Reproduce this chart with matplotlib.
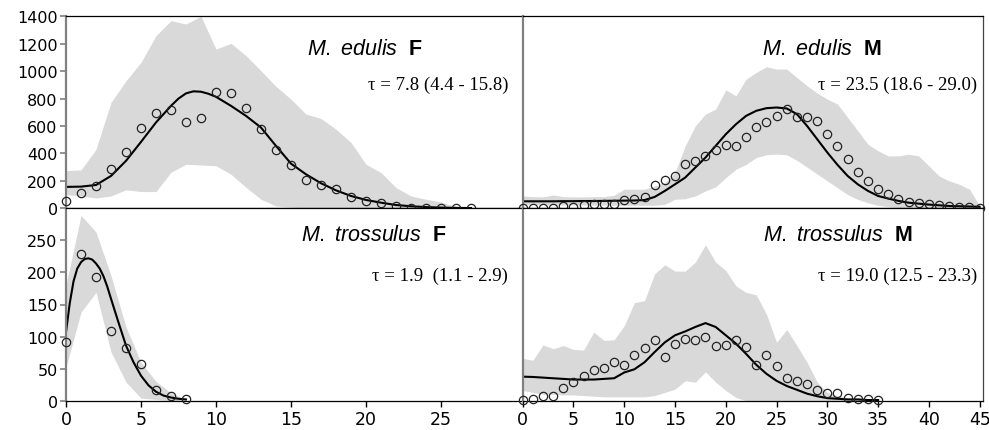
import matplotlib
matplotlib.use("Agg")
import matplotlib.pyplot as plt
import numpy as np

plt.rcParams['font.family'] = ['DejaVu Sans']
plt.rcParams['mathtext.fontset'] = 'custom'
plt.rcParams['mathtext.it'] = 'Liberation Sans:italic'
plt.rcParams['mathtext.bf'] = 'Liberation Sans:bold'
plt.rcParams['mathtext.rm'] = 'Liberation Sans'

# ---- M. edulis F (top left) ----
ef_x = np.arange(0, 28)
ef_obs = [50, 114, 163, 285, 407, 582, 694, 718, 628, 655, 847, 838, 728, 577,
          426, 314, 205, 173, 139, 83, 54, 41, 17, 5, 3, 1, 0, 0]
ef_fit_x = [0, 1, 2, 3, 4, 5, 6, 7, 7.5, 8, 8.5, 9, 9.5, 10, 11, 12, 13,
            14, 15, 16, 17, 18, 19, 20, 21, 22, 23, 24, 25, 26, 27]
ef_fit = [156, 158, 170, 236, 346, 484, 626, 747, 800, 838, 853, 850, 835, 813, 747, 674, 589,
          455, 326, 248, 183, 131, 90, 61, 41, 24, 15, 9, 5, 3, 2]
ef_hi = [275, 280, 430, 772, 930, 1064, 1259, 1368, 1344, 1400, 1161, 1203, 1113, 1003,
         889, 796, 687, 655, 577, 480, 321, 261, 151, 90, 66, 46, 12, 0]
ef_lo = [100, 90, 75, 90, 135, 122, 122, 263, 321, 316, 310, 248, 153, 66,
         17, 8, 4, 2, 0, 0, 0, 0, 0, 0, 0, 0, 0, 0]

# ---- M. edulis M (top right) ----
em_x = np.arange(0, 46)
em_obs = [0, 0, 0, 0, 15, 10, 24, 32, 32, 32, 58, 66, 83, 170, 209, 236, 321, 343,
          382, 428, 463, 453, 521, 594, 631, 674, 723, 665, 665, 638, 540, 455, 363,
          268, 200, 139, 107, 66, 46, 41, 32, 22, 17, 12, 10, 5]
em_fit = [51, 51, 51, 51, 52, 52, 53, 53, 54, 55, 56, 57, 60, 83, 127, 175, 224, 297,
          370, 455, 540, 613, 674, 711, 730, 735, 728, 687, 601, 504, 407, 317, 236,
          175, 127, 90, 71, 54, 41, 34, 27, 22, 17, 15, 13, 11]
em_hi = [90, 85, 83, 97, 85, 83, 83, 85, 85, 95, 139, 139, 139, 163, 187, 260, 455, 601,
         687, 723, 864, 820, 942, 991, 1032, 1015, 1015, 954, 894, 840, 796, 760, 662,
         565, 467, 419, 382, 382, 394, 382, 309, 236, 200, 175, 139, 17]
em_lo = [29, 28, 27, 26, 25, 24, 24, 23, 23, 22, 22, 22, 22, 22, 29, 66, 70, 90, 127,
         156, 224, 285, 320, 370, 390, 395, 390, 350, 300, 250, 200, 150, 100, 65, 40,
         22, 12, 6, 3, 0, 0, 0, 0, 0, 0, 0]

# ---- M. trossulus F (bottom left) ----
tf_x = np.arange(0, 9)
tf_obs = [91, 229, 193, 108, 82, 57, 17, 8, 2]
tf_fit_x = [0, 0.25, 0.5, 0.75, 1, 1.25, 1.5, 1.75, 2, 2.25, 2.5, 2.75, 3, 3.5,
            4, 4.5, 5, 5.5, 6, 6.5, 7, 7.5, 8]
tf_fit = [107, 152, 186, 206, 216, 221, 222, 220, 214, 206, 194, 178, 159, 122,
          86, 60, 39, 24, 14, 8, 5, 3, 2]
tf_hi = [180, 289, 263, 195, 115, 60, 30, 12, 2]
tf_lo = [52, 138, 169, 76, 29, 4, 2, 0, 0]

# ---- M. trossulus M (bottom right) ----
tm_x = np.arange(0, 36)
tm_obs = [1, 3, 7, 7, 20, 29, 39, 48, 51, 61, 56, 72, 82, 94, 68, 89, 96, 94, 99, 86,
          87, 95, 83, 55, 71, 54, 36, 30, 26, 16, 12, 12, 4, 2, 2, 1]
tm_fit = [37.5, 37, 36, 35, 34, 33, 33, 33, 34, 35, 44, 49, 60, 76, 91, 102, 108, 115,
          121, 115, 102, 89, 73, 56, 42, 31, 23, 17, 11, 7, 4, 3, 2, 2, 1, 1]
tm_hi = [66, 63, 87, 81, 86, 80, 79, 107, 94, 95, 117, 153, 156, 198, 212, 202, 202, 216,
         243, 216, 203, 179, 169, 165, 135, 91, 111, 86, 60, 29, 13, 8, 4, 2, 1, 0]
tm_lo = [16, 13, 10, 10, 9, 9, 8, 7, 6, 6, 6, 6, 6, 8, 13, 18, 31, 29, 45, 29, 16, 5,
         0, 0, 0, 0, 0, 0, 0, 0, 0, 0, 0, 0, 0, 0]

names = [r"$\mathit{M.\ edulis}\ \ \mathbf{F}$", r"$\mathit{M.\ edulis}\ \ \mathbf{M}$",
         r"$\mathit{M.\ trossulus}\ \ \mathbf{F}$", r"$\mathit{M.\ trossulus}\ \ \mathbf{M}$"]
taus = ["τ = 7.8 (4.4 - 15.8)", "τ = 23.5 (18.6 - 29.0)",
        "τ = 1.9  (1.1 - 2.9)", "τ = 19.0 (12.5 - 23.3)"]

W, H = 989, 431
fig = plt.figure(figsize=(W / 100, H / 100), dpi=100)


def px_axes(x0, x1, y0, y1):
    return fig.add_axes([x0 / W, 1 - y1 / H, (x1 - x0) / W, (y1 - y0) / H])


ax_ef = px_axes(66, 522.7, 17.3, 209.3)
ax_em = px_axes(522.7, 982.7, 17.3, 209.3)
ax_tf = px_axes(66, 522.7, 209.3, 401.7)
ax_tm = px_axes(522.7, 982.7, 209.3, 401.7)

band_col = '#d9d9d9'
grey = '#808080'


def draw(ax, x, lo, hi, fx, fit, obs):
    ax.fill_between(x, lo, hi, color=band_col, lw=0, zorder=1)
    ax.plot(fx, fit, color='black', lw=1.5, zorder=2)
    ax.plot(x, obs, 'o', mfc='none', mec='#222222', ms=6, mew=0.9, zorder=3, clip_on=False)


draw(ax_ef, ef_x, ef_lo, ef_hi, ef_fit_x, ef_fit, ef_obs)
draw(ax_em, em_x, em_lo, em_hi, em_x, em_fit, em_obs)
draw(ax_tf, tf_x, tf_lo, tf_hi, tf_fit_x, tf_fit, tf_obs)
draw(ax_tm, tm_x, tm_lo, tm_hi, tm_x, tm_fit, tm_obs)

for ax in (ax_ef, ax_tf):
    ax.set_xlim(0, 30.45)
for ax in (ax_em, ax_tm):
    ax.set_xlim(0, 45.3)
for ax in (ax_ef, ax_em):
    ax.set_ylim(0, 1400)
for ax in (ax_tf, ax_tm):
    ax.set_ylim(0, 300)

ax_ef.set_yticks(range(0, 1401, 200))
ax_tf.set_yticks(range(0, 251, 50))
ax_tf.set_xticks(range(0, 26, 5))
ax_tm.set_xticks(range(0, 46, 5))

for ax in (ax_ef, ax_em, ax_tf, ax_tm):
    for s in ax.spines.values():
        s.set_linewidth(0.9)
        s.set_color('black')
    ax.spines['left'].set_color(grey)
    ax.spines['left'].set_linewidth(1.6)
    ax.tick_params(axis='y', labelsize=11.5, direction='out', length=4, width=1.2, color=grey, pad=2)
    ax.tick_params(axis='x', labelsize=12.5, direction='out', length=4, width=1, pad=3)

for ax in (ax_ef, ax_tf):
    ax.spines['right'].set_visible(False)
ax_em.spines['right'].set_color('#444444')
ax_tm.spines['right'].set_color('#444444')

for ax in (ax_ef, ax_em):
    ax.tick_params(axis='x', bottom=False, labelbottom=False)
for ax in (ax_em, ax_tm):
    ax.tick_params(axis='y', left=False, labelleft=False)

name_pos = [(0.782, 0.835), (0.781, 0.835), (0.834, 0.866), (0.849, 0.866)]
tau_pos = [(0.968, 0.647), (0.9875, 0.647), (0.968, 0.653), (0.9875, 0.653)]
for ax, nm, tau, npos, tpos in zip((ax_ef, ax_em, ax_tf, ax_tm), names, taus, name_pos, tau_pos):
    ax.text(npos[0], npos[1], nm, transform=ax.transAxes, ha='right', va='center', fontsize=15.5)
    ax.text(tpos[0], tpos[1], tau, transform=ax.transAxes, ha='right', va='center',
            fontsize=13.5, family='Liberation Serif')

fig.savefig('out.png', dpi=100)
